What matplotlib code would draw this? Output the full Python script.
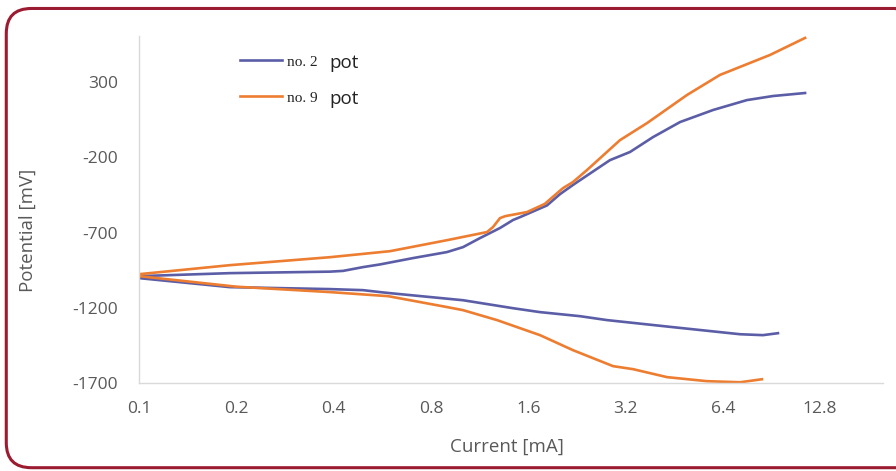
import matplotlib
matplotlib.use("Agg")
import matplotlib.pyplot as plt
from matplotlib.patches import FancyBboxPatch

# ---- data ----
no2_anodic_i = [0.1, 0.191, 0.39, 0.428, 0.493, 0.557, 0.704, 0.897, 1.006, 1.135, 1.309, 1.436,
                1.509, 1.829, 2.007, 2.155, 2.25, 2.865, 3.304, 3.893, 4.72, 5.97, 7.60, 9.15, 11.5]
no2_anodic_e = [-990, -970, -960, -955, -930, -912, -870, -830, -797, -737, -670, -617,
                -598, -520, -445, -398, -370, -219, -165, -66, 34, 114, 180, 207, 227]
no2_cath_i = [0.1, 0.191, 0.39, 0.493, 0.557, 0.598, 1.006, 1.436, 1.74, 2.314, 2.805, 4.49,
              7.24, 8.52, 9.48]
no2_cath_e = [-1003, -1063, -1076, -1083, -1096, -1103, -1150, -1203, -1229, -1256, -1282, -1329,
              -1376, -1382, -1369]

no9_anodic_i = [0.1, 0.191, 0.39, 0.598, 0.897, 1.193, 1.245, 1.309, 1.36, 1.587, 1.8, 2.05,
                2.2, 2.432, 3.077, 3.73, 4.96, 6.27, 8.96, 11.5]
no9_anodic_e = [-977, -917, -864, -824, -751, -697, -664, -604, -591, -564, -510, -405,
                -365, -285, -86, 27, 214, 347, 480, 593]
no9_cath_i = [0.1, 0.2, 0.39, 0.59, 0.9, 1.006, 1.281, 1.74, 2.202, 2.928, 3.376, 4.30,
              5.72, 7.24, 8.46]
no9_cath_e = [-990, -1060, -1096, -1123, -1196, -1216, -1282, -1382, -1482, -1588, -1608, -1661,
              -1688, -1695, -1675]

x_ticks = [0.1, 0.2, 0.4, 0.8, 1.6, 3.2, 6.4, 12.8]
x_tick_labels = ["0.1", "0.2", "0.4", "0.8", "1.6", "3.2", "6.4", "12.8"]
y_ticks = [300, -200, -700, -1200, -1700]

series_labels = ["no. 2", "no. 9"]
series_suffix = "pot"

# ---- styling ----
plt.rcParams['font.family'] = ['Open Sans', 'DejaVu Sans']
plt.rcParams['axes.unicode_minus'] = False
BLUE = '#5B5EA6'
ORANGE = '#ED7D31'
GRAY_TXT = '#595959'
AXIS_GRAY = '#D9D9D9'

fig = plt.figure(figsize=(8.96, 4.71), dpi=100)
fig.patch.set_facecolor('white')

# rounded dark-red border
border = FancyBboxPatch((0.007, 0.007), 1.02, 0.975,
                        boxstyle="round,pad=0,rounding_size=0.028",
                        transform=fig.transFigure, facecolor='none',
                        edgecolor='#9B1B30', linewidth=2.2, zorder=5,
                        mutation_aspect=896 / 471)
fig.patches.append(border)

ax = fig.add_axes([139 / 896, 1 - 383 / 471, (883 - 139) / 896, (383 - 36) / 471])
ax.set_facecolor('none')

# each series: cathodic branch reversed followed by anodic branch
x2 = list(reversed(no2_cath_i)) + no2_anodic_i
y2 = list(reversed(no2_cath_e)) + no2_anodic_e
x9 = list(reversed(no9_cath_i)) + no9_anodic_i
y9 = list(reversed(no9_cath_e)) + no9_anodic_e

ax.plot(x2, y2, color=BLUE, lw=1.9, label=series_labels[0], solid_joinstyle='round')
ax.plot(x9, y9, color=ORANGE, lw=1.9, label=series_labels[1], solid_joinstyle='round')

ax.set_xscale('log', base=2)
ax.set_xlim(0.1, 0.1 * 2 ** ((883 - 139) / 97.3))
ax.set_ylim(-1700, 300 + (82 - 36) / 75.2 * 500)
ax.set_xticks(x_ticks)
ax.set_xticklabels(x_tick_labels)
ax.minorticks_off()
ax.set_yticks(y_ticks)
ax.tick_params(axis='both', length=0, labelsize=12.5, labelcolor=GRAY_TXT)
ax.tick_params(axis='x', pad=13)
ax.tick_params(axis='y', pad=15)

for s in ['top', 'right']:
    ax.spines[s].set_visible(False)
for s in ['left', 'bottom']:
    ax.spines[s].set_color(AXIS_GRAY)
    ax.spines[s].set_linewidth(1.0)

fig.text(28 / 896, 1 - 230 / 471, "Potential [mV]", rotation=90, ha='center', va='center',
         fontsize=13.5, color=GRAY_TXT)
fig.text(507 / 896, 1 - 447 / 471, "Current [mA]", ha='center', va='center',
         fontsize=13.5, color=GRAY_TXT)

leg = ax.legend(loc='upper left', bbox_to_anchor=((240 - 139) / 744, (383 - 55) / 347),
                frameon=False, borderpad=0, borderaxespad=0, handlelength=2.75,
                handletextpad=0.35, labelspacing=1.45,
                prop={'family': ['Liberation Serif', 'DejaVu Serif'], 'size': 11})
for t in leg.get_texts():
    t.set_color('#222222')
fig.canvas.draw()
for t in leg.get_texts():
    ax.annotate(series_suffix, xy=(1, 0.4), xycoords=t, xytext=(8, 0),
                textcoords='offset points', va='center', ha='left',
                fontsize=13.5, color='#222222')

fig.savefig("out.png", dpi=100, facecolor='white')
